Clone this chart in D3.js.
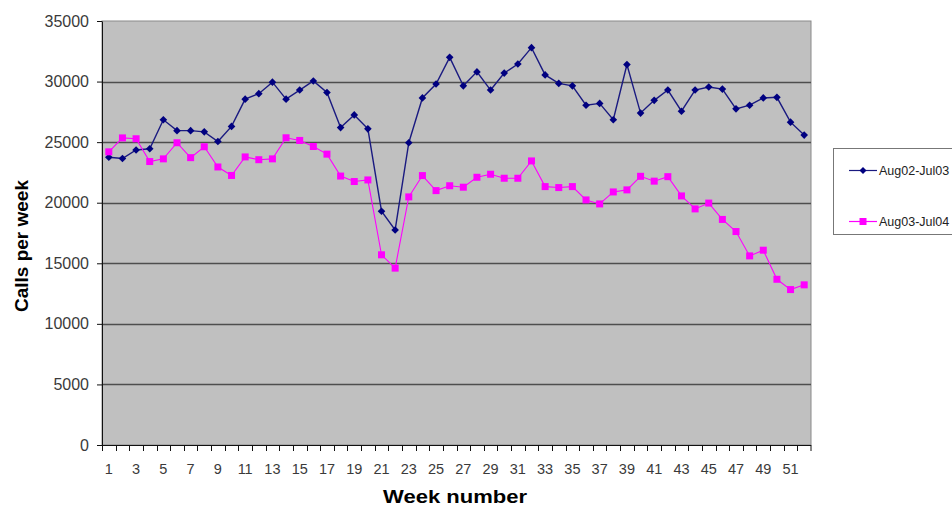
<!DOCTYPE html>
<html>
<head>
<meta charset="utf-8">
<script src="https://cdn.jsdelivr.net/npm/d3@7"></script>
<style>
  html, body { margin: 0; padding: 0; background: #fff; }
  svg { display: block; font-family: "Liberation Sans", Arial, sans-serif; }
</style>
</head>
<body>
<svg id="chart" width="952" height="508"></svg>
<script>
// Weekly call volumes, two consecutive August–July years
const weeks = d3.range(1, 53);
const seriesNames = ["Aug02-Jul03", "Aug03-Jul04"];
const calls0203 = [
  23750, 23650, 24350, 24450, 26850, 25950, 25950, 25850, 25050, 26300,
  28550, 29000, 29950, 28550, 29300, 30050, 29100, 26200, 27250, 26100,
  19300, 17750, 24950, 28650, 29800, 32000, 29650, 30800, 29300, 30700,
  31450, 32800, 30550, 29850, 29650, 28050, 28200, 26850, 31400, 27400,
  28450, 29300, 27550, 29300, 29550, 29380, 27750, 28050, 28650, 28700,
  26650, 25580
];
const calls0304 = [
  24200, 25350, 25280, 23400, 23620, 24950, 23720, 24620, 22950, 22250,
  23780, 23550, 23620, 25360, 25140, 24640, 24010, 22200, 21750, 21880,
  15700, 14600, 20480, 22240, 21000, 21400, 21280, 22100, 22350, 22020,
  22020, 23450, 21330, 21250, 21330, 20230, 19900, 20890, 21060, 22180,
  21780, 22150, 20560, 19490, 19970, 18620, 17620, 15610, 16080, 13680,
  12830, 13220
];
const yTicks = [0, 5000, 10000, 15000, 20000, 25000, 30000, 35000];
const xTickLabels = weeks.filter(w => w % 2 === 1);
const yTitle = "Calls per week";
const xTitle = "Week number";

const svg = d3.select("#chart");
const plot = { left: 102, right: 811, top: 21, bottom: 445 };

const x = d3.scaleBand().domain(weeks).range([plot.left, plot.right]);
const y = d3.scaleLinear().domain([0, 35000]).range([plot.bottom, plot.top]);
const cx = w => x(w) + x.bandwidth() / 2;

// Plot background
svg.append("rect")
  .attr("x", plot.left).attr("y", plot.top)
  .attr("width", plot.right - plot.left).attr("height", plot.bottom - plot.top)
  .attr("fill", "#c0c0c0").attr("stroke", "#8a8a8a").attr("stroke-width", 1);

// Horizontal gridlines
svg.append("g").selectAll("line")
  .data(yTicks.filter(t => t > 0 && t < 35000))
  .join("line")
  .attr("x1", plot.left).attr("x2", plot.right)
  .attr("y1", d => Math.round(y(d)) + 0.5).attr("y2", d => Math.round(y(d)) + 0.5)
  .attr("stroke", "#4e4e4e").attr("stroke-width", 1.6);

// Y axis
const yAxis = svg.append("g")
  .attr("transform", `translate(${plot.left},0)`)
  .call(d3.axisLeft(y).tickValues(yTicks).tickFormat(d3.format("d"))
    .tickSize(5).tickPadding(8).tickSizeOuter(0));
yAxis.select(".domain").attr("stroke", "#111");
yAxis.selectAll(".tick line").attr("stroke", "#111");
yAxis.selectAll(".tick text")
  .attr("font-size", 16).attr("fill", "#3a3a3a")
  .attr("font-family", "'Liberation Sans', Arial, sans-serif");

// X axis: tick marks on band boundaries, labels on odd weeks
const xAxis = svg.append("g").attr("transform", `translate(0,${plot.bottom})`);
xAxis.append("line")
  .attr("x1", plot.left).attr("x2", plot.right)
  .attr("y1", 0.5).attr("y2", 0.5).attr("stroke", "#111");
xAxis.selectAll("line.tk")
  .data(weeks.concat([null]))
  .join("line").attr("class", "tk")
  .attr("x1", d => d === null ? plot.right : Math.round(x(d)) + 0.5)
  .attr("x2", d => d === null ? plot.right : Math.round(x(d)) + 0.5)
  .attr("y1", 0).attr("y2", 6).attr("stroke", "#111");
xAxis.selectAll("text")
  .data(xTickLabels)
  .join("text")
  .attr("x", d => cx(d)).attr("y", 29)
  .attr("text-anchor", "middle")
  .attr("font-size", 14.5).attr("fill", "#3a3a3a")
  .text(d => d);

// Axis titles
svg.append("text")
  .attr("x", 455).attr("y", 503)
  .attr("text-anchor", "middle")
  .attr("font-size", 19).attr("font-weight", "bold").attr("fill", "#000")
  .attr("textLength", 144).attr("lengthAdjust", "spacingAndGlyphs")
  .text(xTitle);
svg.append("text")
  .attr("transform", "translate(28,246) rotate(-90)")
  .attr("text-anchor", "middle")
  .attr("font-size", 19).attr("font-weight", "bold").attr("fill", "#000")
  .text(yTitle);

// Series lines and markers
const line = d3.line().x((d, i) => cx(weeks[i])).y(d => y(d));

svg.append("path").datum(calls0203)
  .attr("d", line).attr("fill", "none")
  .attr("stroke", "#1a1a80").attr("stroke-width", 1.4);
svg.append("path").datum(calls0304)
  .attr("d", line).attr("fill", "none")
  .attr("stroke", "#ff00ff").attr("stroke-width", 1.1);

// Diamonds: squares turned 45 degrees
svg.append("g").selectAll("rect")
  .data(calls0203)
  .join("rect")
  .attr("transform", (d, i) => `translate(${cx(weeks[i])},${y(d)}) rotate(45)`)
  .attr("x", -2.7).attr("y", -2.7).attr("width", 5.4).attr("height", 5.4)
  .attr("fill", "#000080");

svg.append("g").selectAll("rect")
  .data(calls0304)
  .join("rect")
  .attr("x", (d, i) => cx(weeks[i]) - 3.5).attr("y", d => y(d) - 3.5)
  .attr("width", 7).attr("height", 7).attr("fill", "#ff00ff");

// Legend
const legend = svg.append("g");
legend.append("rect")
  .attr("x", 833.5).attr("y", 148.5).attr("width", 130).attr("height", 86)
  .attr("fill", "#fff").attr("stroke", "#777");
const legendItems = [
  { name: seriesNames[0], color: "#000080", stroke: "#1a1a80", y: 170, mark: "diamond" },
  { name: seriesNames[1], color: "#ff00ff", stroke: "#ff00ff", y: 221, mark: "square" }
];
legendItems.forEach(it => {
  legend.append("line")
    .attr("x1", 849).attr("x2", 877).attr("y1", it.y + 0.5).attr("y2", it.y + 0.5)
    .attr("stroke", it.stroke).attr("stroke-width", 1.2);
  if (it.mark === "diamond") {
    legend.append("rect")
      .attr("transform", `translate(863,${it.y + 0.5}) rotate(45)`)
      .attr("x", -2.5).attr("y", -2.5).attr("width", 5).attr("height", 5)
      .attr("fill", it.color);
  } else {
    legend.append("rect").attr("x", 859.5).attr("y", it.y - 3)
      .attr("width", 7).attr("height", 7).attr("fill", it.color);
  }
  legend.append("text")
    .attr("x", 879).attr("y", it.y + 4.5)
    .attr("font-size", 12.5).attr("fill", "#222")
    .text(it.name);
});
</script>
</body>
</html>
